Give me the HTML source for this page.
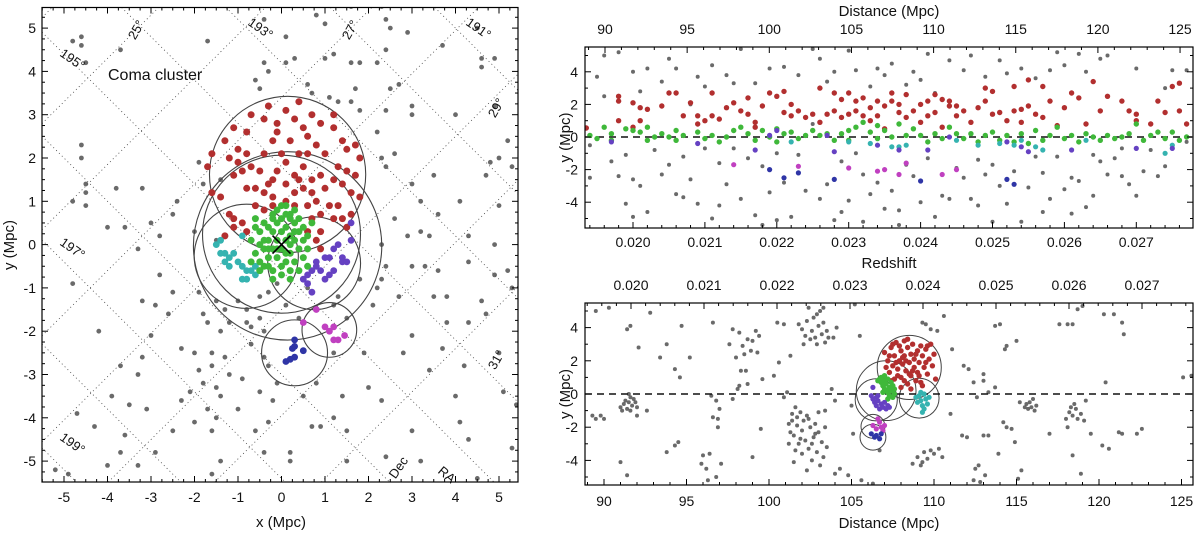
<!DOCTYPE html>
<html><head><meta charset="utf-8"><style>
html,body{margin:0;padding:0;background:#fff;overflow:hidden;width:1200px;height:536px;}
svg{display:block;font-family:"Liberation Sans",sans-serif;}
</style></head><body>
<svg id="chart" width="1200" height="536" viewBox="0 0 1200 536" xmlns="http://www.w3.org/2000/svg"></svg>
<script>
// ---------- LEFT PANEL DATA (x,y in Mpc) ----------
const leftGray = [[-4.8,4.7],[-4.6,4.8],[-4.6,4.6],[-4.5,4.2],[-3.7,4.5],[-1.7,4.7],[-0.4,5.2],[0.1,4.8],[0.8,5.3],[1.0,5.1],[1.6,5.5],[2.3,5.5],[2.4,5.2],[2.5,5.0],[2.4,4.5],[2.9,4.9],[3.7,4.6],[4.5,5.0],[4.6,4.3],[4.9,4.3],[4.6,4.1],[-0.4,4.2],[-0.3,4.0],[0.1,4.2],[0.3,4.3],[1.0,4.3],[1.2,4.4],[1.6,4.2],[1.8,4.2],[2.2,4.2],[2.4,3.1],[3.0,3.2],[2.5,3.6],[2.7,3.7],[-0.6,3.8],[-0.5,3.6],[0.6,3.7],[0.7,3.5],[1.1,3.4],[1.3,3.3],[1.7,3.6],[1.6,3.3],[1.8,3.1],[2.2,2.6],[2.3,2.0],[3.0,3.0],[4.0,3.0],[4.9,3.2],[5.0,2.0],[5.2,2.4],[4.7,1.6],[5.3,1.8],[4.8,1.9],[-4.6,2.3],[-4.6,2.0],[-4.5,1.4],[-4.5,1.2],[-4.8,1.0],[-3.8,1.3],[-3.2,1.3],[-2.4,1.0],[-2.5,0.7],[-1.4,1.5],[-1.8,1.4],[-1.9,1.9],[-4.5,0.9],[-4.0,0.4],[-3.6,0.4],[-3.0,0.5],[-2.8,0.2],[-2.0,0.3],[-1.5,0.1],[-3.3,-0.1],[-2.8,-0.7],[-4.8,-0.9],[-2.5,-1.1],[-1.9,-1.1],[-3.2,-1.3],[-2.9,-1.4],[-2.6,-1.6],[-1.8,-1.6],[-1.5,-1.3],[-1.3,-1.5],[-1.0,-1.3],[-0.8,-1.5],[-0.5,-1.2],[-0.3,-1.1],[-0.8,-1.8],[-0.7,-1.9],[-0.4,-2.0],[-1.7,-1.8],[-1.4,-2.0],[-1.2,-1.8],[-4.2,-2.0],[-3.0,-2.1],[-3.2,-2.6],[-2.3,-2.4],[-2.0,-2.5],[-1.6,-2.5],[-1.3,-2.6],[-0.7,-2.3],[-0.4,-2.6],[-0.3,-2.8],[-1.9,-2.9],[-1.6,-2.8],[-1.2,-3.0],[-1.8,-3.2],[-1.5,-3.3],[-0.9,-3.1],[-3.7,-2.8],[-3.3,-3.0],[-2.1,-3.4],[-1.4,-3.5],[-0.5,-3.4],[-0.2,-3.6],[-3.9,-3.5],[-3.5,-3.7],[-3.1,-3.8],[-2.3,-3.6],[-1.7,-3.8],[-1.0,-3.8],[-0.6,-4.3],[-2.0,-4.1],[-1.5,-4.0],[-0.3,-4.1],[-4.7,-3.9],[-4.3,-4.2],[-3.6,-4.4],[-2.5,-4.3],[-1.6,-4.3],[-3.7,-4.8],[-3.3,-5.1],[-2.9,-4.8],[-4.0,-5.1],[-5.2,-5.2],[-4.9,-5.3],[-1.4,-5.0],[-1.6,-5.3],[-0.4,-4.8],[0.2,-4.8],[0.5,-3.5],[0.7,-4.2],[0.9,-4.2],[1.2,-4.0],[1.4,-3.5],[1.5,-4.3],[1.5,-5.0],[0.2,-5.0],[0.8,-3.2],[1.2,-2.5],[1.9,-2.5],[2.1,-1.4],[1.8,-0.8],[2.3,-0.8],[2.4,-0.5],[2.2,-1.0],[3.0,-0.5],[3.3,-0.5],[3.6,-0.6],[2.7,-1.2],[3.5,-1.2],[3.8,-1.2],[4.6,-1.3],[4.7,-1.6],[4.3,-1.8],[3.8,-1.8],[3.7,-2.4],[3.0,-2.1],[2.8,-2.5],[3.4,-2.9],[4.2,-2.8],[5.0,-2.5],[5.1,-3.4],[5.3,-1.0],[5.2,-0.6],[4.9,-0.7],[4.3,-0.4],[3.2,0.3],[3.4,0.2],[3.6,0.7],[4.1,1.0],[4.3,0.2],[4.9,0.0],[5.0,0.9],[3.2,1.0],[3.0,1.4],[3.5,1.6],[2.6,0.6],[2.4,1.8],[2.6,2.1],[2.9,0.2],[2.3,0.0],[4.0,-3.5],[4.1,-4.1],[4.3,-4.5],[4.5,-5.4],[5.3,-4.7],[5.4,-3.7],[2.3,-3.6],[2.0,-3.3],[3.0,-4.3],[3.2,-5.0],[2.4,-4.9],[-0.1,-3.2],[-0.5,-1.7],[0.1,-1.4],[0.4,-1.7],[-0.1,-0.9],[0.6,-1.0],[1.2,-1.4],[1.5,-1.7],[1.3,-1.2]];
const leftRed = [[-1.7,1.8],[-1.6,1.2],[-1.4,1.1],[-1.6,2.1],[-1.3,2.4],[-1.2,2.0],[-1.1,1.6],[-1.0,2.2],[-1.0,1.9],[-0.8,2.1],[-0.9,1.7],[-0.7,1.8],[-0.8,2.6],[-1.1,2.7],[-0.7,3.0],[-0.4,2.9],[-0.3,3.2],[-0.1,2.8],[0.1,3.1],[0.3,2.9],[0.4,3.3],[0.5,2.7],[0.7,3.0],[0.9,2.8],[1.2,3.0],[1.2,2.7],[1.4,2.4],[1.5,2.2],[1.7,2.3],[1.8,2.0],[1.7,1.6],[1.6,1.2],[1.8,1.1],[1.6,0.7],[1.5,0.4],[1.3,0.9],[1.2,0.6],[1.1,0.9],[0.9,0.7],[0.9,0.3],[0.8,0.1],[0.9,-0.1],[0.6,0.3],[0.7,0.6],[1.0,1.3],[1.2,1.5],[1.3,1.8],[1.0,2.1],[0.8,2.3],[0.6,2.5],[0.4,2.1],[0.2,2.4],[0.0,2.1],[-0.2,2.4],[-0.4,2.1],[-0.5,1.7],[-0.3,1.4],[-0.1,1.7],[0.1,1.9],[0.3,1.6],[0.5,1.8],[0.7,1.5],[0.9,1.6],[0.5,1.3],[0.3,1.2],[0.1,1.4],[-0.2,1.1],[-0.4,1.2],[-0.6,1.3],[-0.8,1.3],[-0.6,0.9],[-0.4,0.8],[-0.2,0.9],[0.1,1.0],[0.3,0.9],[0.6,0.9],[0.8,1.0],[1.4,1.4],[1.5,1.7],[-1.2,0.7],[-1.1,0.6],[-0.9,0.5],[-1.1,0.4],[-0.8,0.3],[-1.3,0.2],[-0.2,1.5],[0.4,1.5],[0.6,2.1],[-0.1,2.6],[0.7,1.2],[1.4,0.6]];
const leftGreen = [[-0.5,0.3],[-0.4,0.1],[-0.3,0.4],[-0.2,0.6],[-0.1,0.8],[0.1,0.9],[0.2,0.6],[0.3,0.5],[0.4,0.3],[0.5,0.1],[0.6,-0.1],[0.5,-0.3],[0.3,-0.4],[0.2,-0.2],[0.1,-0.4],[-0.1,-0.3],[-0.2,-0.1],[-0.3,-0.3],[-0.4,-0.1],[-0.5,0.0],[-0.6,-0.2],[-0.4,-0.5],[-0.2,-0.6],[0.0,-0.7],[0.2,-0.6],[0.4,-0.6],[-0.1,0.1],[0.0,0.3],[0.1,0.1],[0.2,0.2],[-0.2,0.3],[-0.3,0.1],[0.3,0.1],[0.0,-0.1],[0.1,-0.2],[-0.1,0.5],[0.0,0.6],[0.1,0.4],[0.3,0.3],[0.4,-0.1],[0.5,0.4],[-0.4,0.5],[-0.6,0.4],[-0.7,0.1],[-0.7,-0.4],[-0.5,-0.4],[-0.3,-0.5],[0.0,-0.5],[0.2,-0.8],[-0.2,-0.8],[0.3,0.8],[0.2,0.7],[-0.2,0.7],[0.6,0.2],[0.7,0.5],[-0.1,-0.1],[0.2,0.0],[-0.3,-0.1],[0.4,0.6],[0.1,0.7],[-0.5,-0.6],[0.6,-0.5],[-0.6,0.6],[0.0,0.9]];
const leftCyan = [[-1.4,0.1],[-1.5,0.0],[-1.3,-0.2],[-1.2,-0.3],[-1.1,-0.2],[-1.3,-0.4],[-1.2,-0.5],[-1.0,-0.4],[-0.9,-0.5],[-0.8,-0.6],[-0.7,-0.6],[-0.9,-0.8],[-0.8,-0.8],[-0.6,-0.5],[-0.6,-0.7],[-0.5,-0.6],[-1.4,-0.2],[-0.9,0.2]];
const leftPurple = [[1.6,0.5],[1.6,0.1],[1.3,0.0],[1.2,-0.1],[1.4,-0.3],[1.4,-0.4],[1.5,-0.4],[1.1,-0.3],[1.0,-0.3],[0.8,-0.4],[0.8,-0.5],[0.7,-0.6],[0.9,-0.6],[1.1,-0.7],[1.0,-0.8],[0.6,-0.7],[0.5,-0.8],[0.6,-0.9],[0.7,-1.1],[1.2,-0.6]];
const leftMagenta = [[0.8,-1.5],[0.5,-1.8],[1.0,-1.9],[1.1,-2.0],[1.2,-1.9],[1.2,-2.2],[1.3,-2.2],[1.45,-2.1]];
const leftBlue = [[0.3,-2.2],[0.3,-2.35],[0.25,-2.4],[0.5,-2.45],[0.3,-2.6],[0.2,-2.65],[0.1,-2.7]];
const leftCircles = [[0.14,1.62,1.8],[0.0,0.24,1.82],[-0.81,-0.27,1.2],[0.14,-0.03,2.17],[0.75,-0.43,1.07],[1.1,-1.97,0.63],[0.3,-2.5,0.76]];
const leftXTicks = [-5,-4,-3,-2,-1,0,1,2,3,4,5];
const leftYTicks = [-5,-4,-3,-2,-1,0,1,2,3,4,5];

// ---------- TOP RIGHT DATA (redshift, y Mpc) ----------
const topGray = [[0.0194,-0.5],[0.0194,-2.5],[0.0195,3.7],[0.0196,5.0],[0.0196,2.5],[0.0197,-1.5],[0.0198,-2.4],[0.0198,5.2],[0.0199,-4.1],[0.0199,-1.1],[0.0200,4.0],[0.0200,-2.6],[0.0200,-4.9],[0.0201,2.8],[0.0201,-3.0],[0.0202,4.2],[0.0202,-4.6],[0.0203,-0.8],[0.0204,3.4],[0.0204,-2.3],[0.0205,-1.7],[0.0205,4.8],[0.0206,-3.5],[0.0206,4.2],[0.0207,-1.2],[0.0207,-3.7],[0.0208,2.0],[0.0208,-2.6],[0.0209,3.7],[0.0209,-4.1],[0.0210,3.1],[0.0210,-0.7],[0.0211,4.4],[0.0211,-5.0],[0.0212,-1.6],[0.0212,-4.2],[0.0213,3.8],[0.0213,-2.9],[0.0214,3.3],[0.0214,-0.7],[0.0215,5.4],[0.0215,-3.8],[0.0216,-1.3],[0.0217,3.3],[0.0217,-4.8],[0.0218,-1.8],[0.0218,-5.4],[0.0219,4.2],[0.0219,-3.4],[0.0220,-1.0],[0.0220,-5.1],[0.0221,4.3],[0.0221,-2.8],[0.0222,-4.9],[0.0223,3.8],[0.0223,-1.1],[0.0224,-3.3],[0.0225,5.4],[0.0225,0.8],[0.0226,-3.8],[0.0226,4.8],[0.0227,-2.9],[0.0227,3.4],[0.0228,-5.1],[0.0228,4.0],[0.0229,-1.5],[0.0229,-4.6],[0.0230,5.3],[0.0230,-3.9],[0.0231,-1.0],[0.0231,4.1],[0.0232,-2.3],[0.0232,-5.2],[0.0233,3.1],[0.0233,-3.5],[0.0234,4.2],[0.0234,-2.8],[0.0235,-4.4],[0.0235,3.8],[0.0236,4.5],[0.0236,-3.3],[0.0237,-5.4],[0.0237,-4.5],[0.0238,3.2],[0.0238,-1.7],[0.0239,4.0],[0.0239,-2.4],[0.0240,-4.0],[0.0240,3.5],[0.0241,5.1],[0.0241,-1.3],[0.0242,2.7],[0.0242,-4.9],[0.0243,-3.6],[0.0244,4.7],[0.0244,-3.8],[0.0245,-1.9],[0.0246,4.1],[0.0246,-2.5],[0.0247,5.0],[0.0247,-3.8],[0.0248,-1.4],[0.0248,-4.2],[0.0249,3.7],[0.0249,-2.3],[0.0250,-5.2],[0.0250,-1.7],[0.0251,4.7],[0.0251,-3.0],[0.0252,-4.1],[0.0252,3.9],[0.0253,-2.1],[0.0254,-5.2],[0.0254,4.2],[0.0255,-3.1],[0.0256,3.6],[0.0256,-1.2],[0.0257,-2.2],[0.0257,-4.6],[0.0258,4.1],[0.0258,-3.8],[0.0259,5.2],[0.0259,-1.2],[0.0260,-3.2],[0.0260,4.4],[0.0261,-4.7],[0.0261,-2.5],[0.0262,5.1],[0.0262,-2.7],[0.0263,4.0],[0.0263,-4.3],[0.0264,-1.1],[0.0264,-3.6],[0.0265,-1.5],[0.0265,4.8],[0.0266,5.0],[0.0266,-2.3],[0.0267,-1.3],[0.0268,-0.7],[0.0268,-2.4],[0.0269,-2.9],[0.0270,4.2],[0.0270,-3.6],[0.0271,-2.1],[0.0272,-0.8],[0.0273,-2.4],[0.0274,-1.8],[0.0274,3.0],[0.0275,4.1],[0.0276,1.6],[0.0277,4.1],[0.0277,-0.3]];
const topRed = [[0.01935,0.55],[0.0198,2.5],[0.0198,2.2],[0.0198,1.0],[0.0200,2.1],[0.0201,1.8],[0.0200,0.6],[0.0201,1.0],[0.0202,1.7],[0.0204,1.9],[0.0205,2.7],[0.0206,2.7],[0.0207,1.3],[0.0208,2.1],[0.0209,1.3],[0.0209,0.8],[0.0210,1.0],[0.0211,1.3],[0.0211,2.7],[0.0212,1.1],[0.0213,1.8],[0.0214,2.1],[0.0215,1.6],[0.0216,2.4],[0.0216,1.4],[0.0217,0.9],[0.0217,0.6],[0.0218,1.9],[0.0219,2.7],[0.0220,2.5],[0.0221,1.5],[0.0221,2.8],[0.0222,1.3],[0.0222,2.0],[0.0223,1.6],[0.0224,1.2],[0.0225,1.4],[0.0226,3.0],[0.0226,0.9],[0.0227,1.4],[0.0228,1.6],[0.0228,2.7],[0.0229,2.3],[0.0229,1.2],[0.0230,2.7],[0.0230,1.4],[0.0231,1.6],[0.0231,2.2],[0.0232,2.4],[0.0232,1.3],[0.0233,1.0],[0.0233,1.8],[0.0234,2.2],[0.0234,1.3],[0.0235,1.9],[0.0235,0.5],[0.0236,2.2],[0.0236,2.7],[0.0237,1.5],[0.0237,2.0],[0.0238,1.2],[0.0238,2.6],[0.0239,1.6],[0.0240,2.0],[0.0240,0.9],[0.0241,1.3],[0.0241,2.2],[0.0242,1.5],[0.0242,2.6],[0.0243,2.3],[0.0243,0.6],[0.0244,1.9],[0.0244,2.2],[0.0245,1.3],[0.0245,1.9],[0.0246,1.6],[0.0247,0.9],[0.0248,1.8],[0.0249,2.2],[0.0249,3.0],[0.0250,1.4],[0.0250,2.8],[0.0251,1.5],[0.0252,1.0],[0.0253,3.1],[0.0253,1.6],[0.0254,1.7],[0.0254,0.9],[0.0255,3.5],[0.0255,1.9],[0.0256,1.4],[0.0257,1.2],[0.0257,3.1],[0.0258,2.2],[0.0259,0.7],[0.0260,1.8],[0.0261,2.7],[0.0262,2.4],[0.0263,0.8],[0.0264,3.4],[0.0265,1.6],[0.0266,2.5],[0.0268,2.2],[0.0269,1.6],[0.0270,1.4],[0.0270,1.0],[0.0272,0.8],[0.0273,2.2],[0.0274,1.5],[0.0275,3.1],[0.0276,3.3],[0.0276,1.6],[0.0277,0.8]];
const topGreen = [[0.0194,0.1],[0.0195,-0.1],[0.0196,0.6],[0.0197,0.2],[0.0197,-0.2],[0.0199,0.5],[0.0200,0.4],[0.0201,0.3],[0.0202,-0.2],[0.0202,0.6],[0.0203,0.0],[0.0204,0.2],[0.0205,0.0],[0.0206,0.4],[0.0206,-0.2],[0.0207,0.1],[0.0209,0.3],[0.0210,-0.1],[0.0211,0.1],[0.0212,-0.3],[0.0213,0.0],[0.0214,0.4],[0.0215,0.6],[0.0216,0.2],[0.0217,-0.2],[0.0218,0.4],[0.0219,0.0],[0.0220,0.5],[0.0220,-0.3],[0.0221,0.2],[0.0222,0.3],[0.0223,-0.1],[0.0224,0.1],[0.0225,0.4],[0.0226,0.1],[0.0227,0.2],[0.0228,-0.2],[0.0229,0.2],[0.0230,0.4],[0.0230,-0.2],[0.0231,0.6],[0.0232,0.9],[0.0233,0.3],[0.0234,-0.1],[0.0234,0.7],[0.0235,0.4],[0.0236,0.0],[0.0237,0.8],[0.0238,0.1],[0.0239,0.5],[0.0240,0.1],[0.0241,-0.3],[0.0242,0.2],[0.0243,-0.1],[0.0244,0.6],[0.0245,0.2],[0.0246,-0.1],[0.0247,0.2],[0.0248,-0.3],[0.0249,0.1],[0.0250,0.3],[0.0251,-0.2],[0.0252,0.1],[0.0253,-0.3],[0.0254,0.2],[0.0255,-0.4],[0.0256,0.4],[0.0257,-0.2],[0.0258,0.1],[0.0259,0.6],[0.0260,-0.1],[0.0261,0.1],[0.0262,-0.3],[0.0263,0.2],[0.0264,0.0],[0.0265,-0.2],[0.0266,0.1],[0.0267,-0.1],[0.0268,0.0],[0.0269,0.2],[0.0270,0.8],[0.0271,-0.2],[0.0272,0.1],[0.0273,0.3],[0.0274,-0.1],[0.0275,0.3],[0.0276,-0.2],[0.0277,0.0]];
const topCyan = [[0.0222,-0.3],[0.0230,-0.3],[0.0233,-0.4],[0.0236,-0.6],[0.0237,-0.6],[0.0238,-0.5],[0.0245,-0.2],[0.0248,-0.5],[0.0251,-0.4],[0.0253,-0.5],[0.0254,-0.2],[0.0256,-0.6],[0.0257,-0.8],[0.0263,-0.2],[0.0274,-1.0],[0.0275,-0.5]];
const topPurple = [[0.0197,-0.3],[0.0209,-0.4],[0.0217,-0.8],[0.0219,0.1],[0.0220,0.4],[0.0227,0.1],[0.0228,-0.9],[0.0234,-0.5],[0.0237,-0.8],[0.0241,-0.8],[0.0244,0.0],[0.0252,-0.3],[0.0254,-0.6],[0.0255,-0.9],[0.0261,-0.8],[0.0270,-0.7],[0.0275,-0.7]];
const topBlue = [[0.0219,-2.0],[0.0221,-2.5],[0.0223,-2.2],[0.0228,-2.6],[0.0240,-2.7],[0.0252,-2.6],[0.0253,-2.9]];
const topMagenta = [[0.0214,-1.7],[0.0223,-1.8],[0.0230,-1.9],[0.0234,-2.1],[0.0235,-2.0],[0.0237,-2.3],[0.0238,-1.6],[0.0243,-2.3],[0.0245,-2.0]];
const zTicks = [0.020,0.021,0.022,0.023,0.024,0.025,0.026,0.027];
const zTickLabels = ["0.020","0.021","0.022","0.023","0.024","0.025","0.026","0.027"];
const dTicks = [90,95,100,105,110,115,120,125];
const rYTicks = [-4,-2,0,2,4];

// ---------- BOTTOM RIGHT DATA (distance Mpc, y Mpc) ----------
const botGray = [[89.3,-1.3],[89.5,-1.5],[89.8,-1.3],[90.0,-1.5],[89.5,5.0],[90.3,5.2],[92.1,2.8],[92.8,4.9],[93.4,2.2],[93.8,3.0],[94.3,1.5],[94.6,1.0],[94.7,4.1],[95.2,2.2],[94.5,-2.9],[94.3,-3.1],[93.8,-3.5],[91.0,-4.1],[91.4,-4.9],[92.0,-1.3],[92.6,-1.0],[96.0,-3.7],[95.9,-4.2],[96.2,-4.5],[96.4,-3.6],[96.3,-5.2],[96.8,-5.0],[97.1,-4.2],[96.6,-1.4],[96.9,-1.5],[96.5,-0.1],[96.8,-0.4],[97.0,-0.9],[96.9,-2.0],[96.6,4.3],[97.8,-0.3],[98.1,0.3],[98.2,0.5],[99.5,-2.1],[99.0,-3.8],[99.6,0.9],[100.5,4.3],[100.6,1.9],[100.9,-0.2],[101.1,0.1],[101.3,2.3],[100.3,1.1],[100.9,4.2],[103.0,-1.1],[103.4,-1.0],[103.8,0.3],[104.0,-0.4],[104.0,-4.8],[104.8,-4.9],[104.3,-4.5],[105.0,-0.7],[105.1,-2.4],[105.6,-5.2],[106.3,-5.4],[106.7,-3.4],[105.5,3.5],[105.2,5.4],[104.1,4.0],[103.9,3.4],[109.3,4.3],[109.5,4.2],[109.8,3.9],[110.2,3.8],[110.6,4.7],[111.1,2.7],[111.0,-1.2],[111.7,-2.5],[112.0,-2.6],[111.8,1.7],[112.1,1.5],[112.4,0.7],[112.6,-0.2],[113.0,1.2],[113.0,0.8],[113.3,0.1],[113.7,0.4],[113.3,-2.5],[113.0,-2.5],[112.7,-4.3],[112.5,-4.5],[112.4,-5.2],[112.8,-5.3],[113.1,-4.9],[113.9,-3.6],[114.4,-2.0],[114.7,-2.1],[114.9,-2.9],[114.2,-1.7],[113.7,4.1],[114.0,4.2],[114.4,2.9],[114.3,2.7],[115.0,3.2],[115.3,-4.6],[115.1,-5.1],[115.2,-0.5],[117.0,-2.4],[117.6,4.2],[118.1,4.2],[118.4,4.2],[118.7,5.1],[119.0,5.3],[119.2,-0.4],[118.9,-4.8],[118.4,-3.7],[119.5,-2.4],[120.2,-3.1],[120.4,0.7],[120.6,-3.3],[120.9,4.8],[121.4,4.3],[120.3,4.8],[121.5,3.6],[121.2,-2.3],[121.4,-2.4],[122.3,-2.4],[122.6,-2.1],[125.1,1.0],[125.6,1.1],[125.8,4.0],
[91.0,-0.8],[91.2,-0.6],[91.3,-0.4],[91.4,-0.9],[91.5,-0.5],[91.6,-0.2],[91.7,-0.7],[91.8,-0.3],[91.9,-0.5],[92.0,-0.8],[91.5,0.0],[91.1,-1.0],[91.6,-1.0],[91.4,3.9],[91.6,4.1],
[97.6,3.0],[97.8,3.9],[98.0,2.2],[98.2,3.7],[98.4,2.9],[98.5,2.4],[98.7,3.3],[98.9,2.6],[99.0,3.2],[99.2,3.8],[99.3,2.5],[99.4,3.5],[98.3,1.4],[98.7,0.6],[98.6,1.4],
[101.8,4.2],[102.0,3.9],[102.2,3.5],[102.3,4.4],[102.5,3.3],[102.6,3.8],[102.7,4.6],[102.8,3.4],[102.9,3.0],[103.0,4.1],[103.1,5.0],[103.2,3.6],[103.3,4.3],[103.4,3.1],[103.5,3.8],[102.4,5.2],[103.6,3.4],[102.1,3.0],[102.9,4.8],[103.3,5.2],
[101.2,-1.8],[101.4,-1.2],[101.5,-2.5],[101.6,-0.8],[101.7,-1.4],[101.8,-3.0],[101.9,-1.1],[102.0,-2.2],[102.0,-3.6],[102.1,-1.6],[102.2,-2.8],[102.3,-1.3],[102.4,-3.3],[102.5,-2.0],[102.6,-4.0],[102.7,-2.6],[102.8,-1.8],[102.9,-3.5],[103.0,-2.3],[103.1,-4.3],[103.2,-2.9],[103.3,-3.8],[103.4,-2.0],[101.6,-3.4],[101.3,-2.3],[101.5,-4.1],[102.3,-4.6],[102.6,-3.0],[101.9,-2.7],[102.8,-2.4],[103.5,-3.2],[101.7,-1.9],[102.4,-1.5],[101.4,-1.6],[101.2,-3.0],
[108.7,-4.2],[109.0,-3.8],[109.2,-4.3],[109.4,-3.5],[109.6,-3.9],[109.8,-3.4],[110.0,-3.6],[110.3,-3.3],[110.5,-3.8],[109.3,-4.1],
[115.6,-0.6],[115.7,-0.9],[115.8,-0.5],[115.9,-0.8],[116.0,-0.3],[116.1,-1.0],[116.2,-0.7],[115.5,-0.8],
[118.0,-1.5],[118.2,-1.1],[118.3,-0.8],[118.4,-1.3],[118.5,-0.6],[118.6,-0.9],[118.7,-1.5],[118.9,-1.2],[119.1,-1.6],[118.1,-2.0]];
const botRed = [[107.0,2.5],[107.2,2.0],[107.3,1.3],[107.4,2.8],[107.5,1.7],[107.6,2.3],[107.6,0.9],[107.7,3.1],[107.8,1.5],[107.9,2.0],[108.0,2.6],[108.0,1.0],[108.1,1.8],[108.2,3.2],[108.2,2.3],[108.3,1.4],[108.4,0.6],[108.4,2.8],[108.5,1.9],[108.6,2.4],[108.6,1.1],[108.7,3.0],[108.8,1.6],[108.8,2.1],[108.9,0.8],[109.0,2.6],[109.0,1.3],[109.1,1.9],[109.2,2.9],[109.3,2.3],[109.3,0.5],[109.4,1.6],[109.5,2.7],[109.6,1.2],[109.7,2.1],[109.8,3.0],[109.9,1.7],[110.0,2.4],[110.1,0.9],[107.1,1.6],[107.3,2.3],[107.5,3.0],[107.9,2.9],[108.1,2.2],[108.3,2.0],[108.5,1.2],[108.7,1.4],[108.9,2.4],[109.1,1.1],[109.5,1.9],[107.8,1.1],[108.0,0.4],[108.6,0.3],[109.2,0.7],[107.4,0.8],[106.9,1.0],[109.6,2.9],[108.4,3.3],[107.7,1.9],[108.2,0.8]];
const botGreen = [[106.6,0.8],[106.7,0.9],[106.8,0.7],[106.8,1.0],[106.9,0.5],[107.0,0.8],[107.0,0.3],[107.1,0.6],[107.2,0.1],[107.2,0.9],[107.3,0.4],[107.3,-0.1],[107.4,0.2],[107.5,-0.2],[107.5,0.5],[107.6,0.0],[107.1,0.2],[106.9,0.1],[107.4,0.7],[107.6,0.3],[107.0,1.1],[107.2,-0.3]];
const botPurple = [[106.2,-0.1],[106.3,-0.3],[106.4,-0.5],[106.5,-0.2],[106.5,-0.7],[106.6,-0.4],[106.7,-0.9],[106.8,-0.6],[106.9,-0.8],[107.0,-0.5],[107.1,-0.9],[107.2,-0.7],[106.3,0.4],[107.3,-0.8],[106.6,-0.1]];
const botCyan = [[108.9,-0.2],[109.0,-0.5],[109.1,-0.1],[109.2,-0.4],[109.3,-0.7],[109.4,0.0],[109.5,-0.3],[109.6,-0.6],[109.4,-0.9],[109.2,0.1],[109.7,-0.2],[109.3,-1.1]];
const botMagenta = [[106.3,-1.9],[106.5,-2.1],[106.7,-1.7],[106.8,-2.0],[106.9,-2.2],[106.6,-1.5],[107.0,-1.9]];
const botBlue = [[106.2,-2.4],[106.4,-2.6],[106.5,-2.5],[106.7,-2.7],[106.8,-2.4]];
const botCircles = [[108.5,1.6,1.93],[107.1,0.2,1.8],[106.5,-0.35,1.27],[109.1,-0.25,1.2],[106.3,-1.95,0.72],[106.3,-2.6,0.78]];

const COL = {gray:'rgba(80,80,80,0.85)',red:'#b22f2f',green:'#3fb83a',cyan:'#35b3b0',purple:'#6541c2',magenta:'#c040c0',blue:'#2f35a6'};

// ---------- helpers ----------
const svg = document.getElementById('chart');
const NS = 'http://www.w3.org/2000/svg';
function mk(tag, attrs, parent) {
  const e = document.createElementNS(NS, tag);
  for (const k in attrs) e.setAttribute(k, attrs[k]);
  (parent || svg).appendChild(e);
  return e;
}
function txt(x, y, s, size, anchor, parent, rot) {
  const t = mk('text', {x:x, y:y, 'font-size':size, 'text-anchor':anchor||'middle', fill:'#111'}, parent);
  if (rot) t.setAttribute('transform', 'rotate(' + rot + ' ' + x + ' ' + y + ')');
  t.textContent = s;
  return t;
}
function dots(g, arr, sx, sy, r, col, name) {
  arr.forEach(p => {
    const c = mk('circle', {cx:sx(p[0]).toFixed(1), cy:sy(p[1]).toFixed(1), r:r, fill:col}, g);
    
    
  });
}

// ================= LEFT PANEL =================
(function(){
  const L=42,R=518,T=7.5,B=482;
  const sx = v => 281.5 + 43.5*v, sy = v => 244.6 - 43.3*v;
  const XMIN=(L-281.5)/43.5, XMAX=(R-281.5)/43.5, YMAX=(244.6-T)/43.3, YMIN=(244.6-B)/43.3;
  const g = mk('g', {});
  
  
  const defs = mk('defs', {}, g);
  const cp = mk('clipPath', {id:'clipL'}, defs);
  mk('rect', {x:L, y:T, width:R-L, height:B-T}, cp);
  const inner = mk('g', {'clip-path':'url(#clipL)'}, g);
  const grid = mk('g', {stroke:'#444', 'stroke-width':0.8, 'stroke-dasharray':'1 3'}, inner);
  
  
  // clipped diagonal line: y = s*x + b within frame
  function diag(s, b){
    // x range where y in [YMIN,YMAX]
    let xa = (YMIN-b)/s, xb = (YMAX-b)/s;
    let lo = Math.max(XMIN, Math.min(xa,xb)), hi = Math.min(XMAX, Math.max(xa,xb));
    if (hi <= lo) return;
    mk('line', {x1:sx(lo).toFixed(1), y1:sy(s*lo+b).toFixed(1), x2:sx(hi).toFixed(1), y2:sy(s*hi+b).toFixed(1)}, grid);
  }
  for (let k=-6;k<=6;k++){
    diag(1, 8.3 + k*2.45);
    diag(-1, 4.2 + k*2.4);
  }
  dots(inner, leftGray, sx, sy, 2.4, COL.gray, 'galaxy-background');
  const circ = mk('g', {fill:'none', stroke:'#444', 'stroke-width':1.1}, inner);
  
  
  leftCircles.forEach(c => {
    const e = mk('circle', {cx:sx(c[0]), cy:sy(c[1]), r:c[2]*43.4}, circ);
    
    
  });
  dots(inner, leftRed, sx, sy, 3.5, COL.red, 'galaxy-red-group');
  dots(inner, leftCyan, sx, sy, 3.4, COL.cyan, 'galaxy-cyan-group');
  dots(inner, leftPurple, sx, sy, 3.4, COL.purple, 'galaxy-purple-group');
  dots(inner, leftMagenta, sx, sy, 3.4, COL.magenta, 'galaxy-magenta-group');
  dots(inner, leftBlue, sx, sy, 3.4, COL.blue, 'galaxy-blue-group');
  dots(inner, leftGreen, sx, sy, 3.5, COL.green, 'galaxy-green-core');
  const xm = mk('path', {d:'M'+(sx(0)-9)+' '+(sy(0)-9)+'L'+(sx(0)+9)+' '+(sy(0)+9)+'M'+(sx(0)+9)+' '+(sy(0)-9)+'L'+(sx(0)-9)+' '+(sy(0)+9), stroke:'#000','stroke-width':1.6}, inner);
  
  
  const lab = [['195°',70,63,35],['197°',70,252,35],['199°',70,447,35],['193°',258,32,35],['191°',476,32,35],['25°',140,32,-60],['27°',354,32,-60],['29°',500,110,-60],['31°',500,362,-60],['Dec',402,470,-55],['RA',444,478,40]];
  lab.forEach(l => { const t = txt(l[1], l[2], l[0], 13, 'middle', g, l[3]);   });
  const ct = txt(108, 80, 'Coma cluster', 16, 'start', g);
  
  
  mk('rect', {x:L, y:T, width:R-L, height:B-T, fill:'none', stroke:'#000', 'stroke-width':1.2}, g);
  const tk = mk('g', {stroke:'#000', 'stroke-width':1}, g);
  for (let v=-5.5; v<=5.51; v+=0.25){
    const x=sx(v), y=sy(v), maj = Math.abs(v-Math.round(v))<1e-6;
    const len = maj?6:3;
    if (x>=L && x<=R){ mk('line',{x1:x,y1:B,x2:x,y2:B-len},tk); mk('line',{x1:x,y1:T,x2:x,y2:T+len},tk); }
    if (y>=T && y<=B){ mk('line',{x1:L,y1:y,x2:L+len,y2:y},tk); mk('line',{x1:R,y1:y,x2:R-len,y2:y},tk); }
  }
  leftXTicks.forEach(v => { const t = txt(sx(v), 502, String(v), 14, 'middle', g);   });
  leftYTicks.forEach(v => { const t = txt(36, sy(v)+5, String(v), 14, 'end', g);   });
  const xt = txt(281, 527, 'x (Mpc)', 15, 'middle', g);
  
  
  const yt = txt(14, 245, 'y (Mpc)', 15, 'middle', g, -90);
  
  
})();

// ================= RIGHT PANELS =================
function rightPanel(opt){
  const L=585,R=1193,T=opt.T,B=opt.B;
  const g = mk('g', {});
  
  
  const defs = mk('defs', {}, g);
  const cp = mk('clipPath', {id:opt.clip}, defs);
  mk('rect', {x:L, y:T, width:R-L, height:B-T}, cp);
  const inner = mk('g', {'clip-path':'url(#'+opt.clip+')'}, g);
  const sx = opt.sx, sy = opt.sy;
  dots(inner, opt.gray, sx, sy, 2.0, COL.gray, 'galaxy-background');
  if (opt.circles){
    const cg = mk('g', {fill:'none', stroke:'#444', 'stroke-width':1}, inner);
    opt.circles.forEach(c => {
      const e = mk('circle', {cx:sx(c[0]), cy:sy(c[1]), r:c[2]*16.6}, cg);
      
      
    });
  }
  const zl = mk('line', {x1:L, y1:sy(0), x2:R, y2:sy(0), stroke:'#111', 'stroke-width':1.5, 'stroke-dasharray':'7 5'}, inner);
  
  
  dots(inner, opt.red, sx, sy, 2.7, COL.red, 'galaxy-red-group');
  dots(inner, opt.green, sx, sy, 2.7, COL.green, 'galaxy-green-core');
  dots(inner, opt.cyan, sx, sy, 2.6, COL.cyan, 'galaxy-cyan-group');
  dots(inner, opt.purple, sx, sy, 2.6, COL.purple, 'galaxy-purple-group');
  dots(inner, opt.magenta, sx, sy, 2.6, COL.magenta, 'galaxy-magenta-group');
  dots(inner, opt.blue, sx, sy, 2.6, COL.blue, 'galaxy-blue-group');
  mk('rect', {x:L, y:T, width:R-L, height:B-T, fill:'none', stroke:'#000', 'stroke-width':1.2}, g);
  const tk = mk('g', {stroke:'#000', 'stroke-width':1}, g);
  for (let v=-5; v<=5; v+=1){
    const y = sy(v), len = (v%2===0)?6:3;
    mk('line',{x1:L,y1:y,x2:L+len,y2:y},tk); mk('line',{x1:R,y1:y,x2:R-len,y2:y},tk);
  }
  rYTicks.forEach(v => { const t = txt(578, sy(v)+5, String(v), 14, 'end', g);   });
  for (let i=0;i<=50;i++){
    const z = 0.019 + i*0.0002, x = opt.zx(z);
    if (x<L||x>R) continue;
    const len = (i%5===0)?6:3;
    const yb = opt.zBottom?B:T, dir = opt.zBottom?-1:1;
    mk('line',{x1:x,y1:yb,x2:x,y2:yb+dir*len},tk);
  }
  zTicks.forEach((z,i) => { const t = txt(opt.zx(z), opt.zLabY, zTickLabels[i], 14, 'middle', g);   });
  for (let d=88; d<=127; d++){
    const x = opt.dx(d);
    if (x<L||x>R) continue;
    const len = (d%5===0)?6:3;
    const yb = opt.zBottom?T:B, dir = opt.zBottom?1:-1;
    mk('line',{x1:x,y1:yb,x2:x,y2:yb+dir*len},tk);
  }
  dTicks.forEach(d => { const t = txt(opt.dx(d), opt.dLabY, String(d), 14, 'middle', g);   });
  if (opt.zTitleY) {
    const zt = txt(889, opt.zTitleY, 'Redshift', 15, 'middle', g);
    
    
  }
  const dt = txt(889, opt.dTitleY, 'Distance (Mpc)', 15, 'middle', g);
  
  
  const yt = txt(570, (T+B)/2, 'y (Mpc)', 15, 'middle', g, -90);
  
  
}
const zxTop = z => 633 + (z-0.020)*71900;
rightPanel({name:'redshift-panel', clip:'clipT', T:47, B:228,
  sx: zxTop, sy: v => 137 - 16.3*v,
  zx: zxTop, dx: d => 605 + (d-90)*16.43,
  zBottom:true, zLabY:247, dLabY:34, zTitleY:268, dTitleY:16,
  gray:topGray, red:topRed, green:topGreen, cyan:topCyan, purple:topPurple, magenta:topMagenta, blue:topBlue});
const dxBot = d => 604 + (d-90)*16.5;
rightPanel({name:'distance-panel', clip:'clipB', T:303, B:485,
  sx: dxBot, sy: v => 394 - 16.6*v,
  zx: z => 631 + (z-0.020)*73000, dx: dxBot,
  zBottom:false, zLabY:290, dLabY:506, zTitleY:0, dTitleY:528,
  gray:botGray, red:botRed, green:botGreen, cyan:botCyan, purple:botPurple, magenta:botMagenta, blue:botBlue, circles:botCircles});
</script>
</body></html>
